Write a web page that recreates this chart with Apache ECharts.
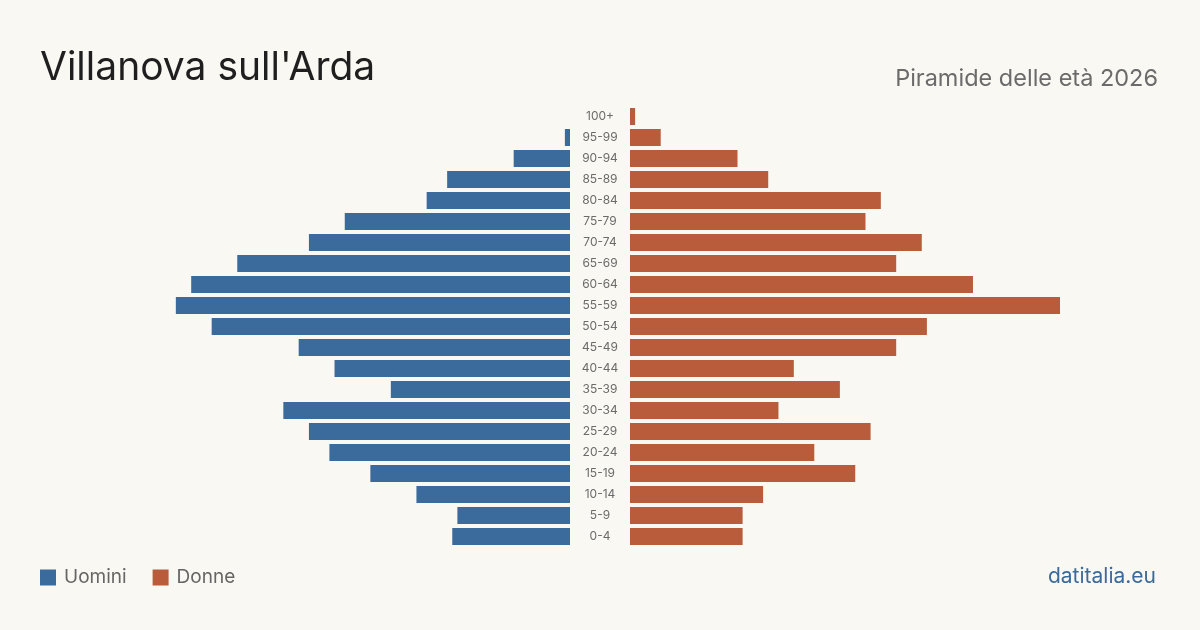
<!DOCTYPE html>
<html>
<head>
<meta charset="utf-8">
<script src="https://cdn.jsdelivr.net/npm/echarts@6/dist/echarts.min.js"></script>
<style>
  html, body { margin: 0; padding: 0; background: #faf8f3; }
  #chart { width: 1200px; height: 630px; }
</style>
</head>
<body>
<div id="chart"></div>
<script>
// fasce d'età, dall'alto verso il basso
var eta = ['100+', '95-99', '90-94', '85-89', '80-84', '75-79', '70-74', '65-69', '60-64', '55-59', '50-54',
    '45-49', '40-44', '35-39', '30-34', '25-29', '20-24', '15-19', '10-14', '5-9', '0-4'];
var uomini = [0, 1, 11, 24, 28, 44, 51, 65, 74, 77, 70, 53, 46, 35, 56, 51, 47, 39, 30, 22, 23];
var donne = [1, 6, 21, 27, 49, 46, 57, 52, 67, 84, 58, 52, 32, 41, 29, 47, 36, 44, 26, 22, 22];
var maxVal = 84;

var blu = '#3b6b9c';
var rosso = '#b95c3c';
var font = 'Inter, "Noto Sans", sans-serif';

var myChart = echarts.init(document.getElementById('chart'));
var option = {
    backgroundColor: '#faf8f3',
    animation: false,
    textStyle: { fontFamily: font },
    title: [
        {
            text: "Villanova sull'Arda",
            left: 35, top: 44,
            textStyle: { fontSize: 39, fontWeight: 'normal', color: '#1f1f1f', fontFamily: font }
        },
        {
            text: 'Piramide delle età 2026',
            right: 37, top: 62,
            textStyle: { fontSize: 23.5, fontWeight: 'normal', color: '#6b6b6b', fontFamily: font }
        },
        {
            text: 'datitalia.eu',
            right: 39, top: 561,
            textStyle: { fontSize: 21, fontWeight: 'normal', color: blu, fontFamily: font }
        }
    ],
    legend: {
        left: 35, top: 563,
        itemWidth: 16, itemHeight: 16, itemGap: 26,
        icon: 'rect',
        textStyle: { fontSize: 19, color: '#666', fontFamily: font, padding: [0, 0, 0, 3] },
        data: ['Uomini', 'Donne']
    },
    grid: [
        { left: 140, width: 430, top: 106, height: 441 },
        { left: 630, width: 430, top: 106, height: 441 }
    ],
    xAxis: [
        { gridIndex: 0, type: 'value', min: 0, max: maxVal, inverse: true, show: false },
        { gridIndex: 1, type: 'value', min: 0, max: maxVal, show: false }
    ],
    yAxis: [
        { gridIndex: 0, type: 'category', data: eta, inverse: true, show: false },
        {
            gridIndex: 1, type: 'category', data: eta, inverse: true, position: 'left',
            axisLine: { show: false }, axisTick: { show: false },
            axisLabel: {
                align: 'center', margin: 30, fontSize: 12, color: '#6b6b6b', fontFamily: font,
                padding: [5, 0, 0, 0]
            }
        }
    ],
    series: [
        {
            name: 'Uomini', type: 'bar', xAxisIndex: 0, yAxisIndex: 0,
            data: uomini, barWidth: 17, itemStyle: { color: blu }
        },
        {
            name: 'Donne', type: 'bar', xAxisIndex: 1, yAxisIndex: 1,
            data: donne, barWidth: 17, itemStyle: { color: rosso }
        }
    ]
};
myChart.setOption(option, true);
</script>
</body>
</html>
